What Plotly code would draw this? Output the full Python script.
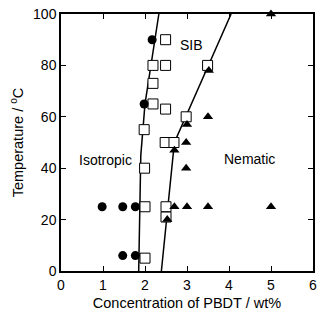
import plotly.graph_objects as go

# Data (concentration wt%, temperature °C)
iso_x = [2.17, 1.98, 0.98, 1.47, 1.77, 1.47, 1.77]
iso_y = [90, 65, 25, 25, 25, 6, 6]

sib_x = [2.49, 2.19, 2.49, 3.49, 2.19, 2.19, 2.49, 2.98, 1.98, 2.48, 2.69, 1.99, 2.0, 2.5, 2.5, 2.0]
sib_y = [90, 80, 80, 80, 73, 65, 63, 60, 55, 50, 50, 40, 25, 25, 21, 5]

nem_x = [5.0, 3.52, 3.5, 3.0, 2.98, 2.7, 2.98, 2.7, 3.0, 3.5, 5.0, 2.53]
nem_y = [100, 78, 60, 57, 50, 47, 40, 25, 25, 25, 25, 20]

left_bx = [1.85, 1.90, 2.0, 2.33]
left_by = [0, 45, 65, 100]
right_bx = [2.39, 2.70, 4.05]
right_by = [0, 50, 100]

x_ticks = [0, 1, 2, 3, 4, 5, 6]
y_ticks = [0, 20, 40, 60, 80, 100]

fig = go.Figure()
fig.add_trace(go.Scatter(x=left_bx, y=left_by, mode="lines",
                         line=dict(color="black", width=1.5), showlegend=False))
fig.add_trace(go.Scatter(x=right_bx, y=right_by, mode="lines",
                         line=dict(color="black", width=1.5), showlegend=False))
fig.add_trace(go.Scatter(x=sib_x, y=sib_y, mode="markers", cliponaxis=False,
                         marker=dict(symbol="square", size=10, color="white",
                                     line=dict(color="black", width=1)), showlegend=False))
fig.add_trace(go.Scatter(x=iso_x, y=iso_y, mode="markers", cliponaxis=False,
                         marker=dict(symbol="circle", size=9, color="black"), showlegend=False))
fig.add_trace(go.Scatter(x=nem_x, y=nem_y, mode="markers", cliponaxis=False,
                         marker=dict(symbol="triangle-up", size=9, color="black"), showlegend=False))

font = "Liberation Sans, Arial, sans-serif"
fig.add_annotation(x=3.1, y=88, text="SIB", showarrow=False, font=dict(size=14, color="black", family=font))
fig.add_annotation(x=1.05, y=43, text="Isotropic", showarrow=False, font=dict(size=14, color="black", family=font))
fig.add_annotation(x=4.48, y=43.5, text="Nematic", showarrow=False, font=dict(size=14, color="black", family=font))

axis_common = dict(showgrid=False, zeroline=False, showline=True, linecolor="black", linewidth=1.5,
                   mirror="allticks", ticks="inside", ticklen=5, tickwidth=1, tickcolor="black",
                   tickfont=dict(size=14, color="black", family=font))
fig.update_xaxes(range=[0, 6], tickvals=x_ticks,
                 title=dict(text="Concentration of PBDT / wt%", font=dict(size=14.5, color="black", family=font), standoff=6),
                 **axis_common)
fig.update_yaxes(range=[0, 100], tickvals=y_ticks,
                 title=dict(text="Temperature / <sup>o</sup>C", font=dict(size=14.5, color="black", family=font), standoff=6),
                 **axis_common)
fig.update_layout(width=321, height=320, margin=dict(l=61, r=4, t=14, b=49),
                  plot_bgcolor="white", paper_bgcolor="white")
fig.write_html("out.html")
